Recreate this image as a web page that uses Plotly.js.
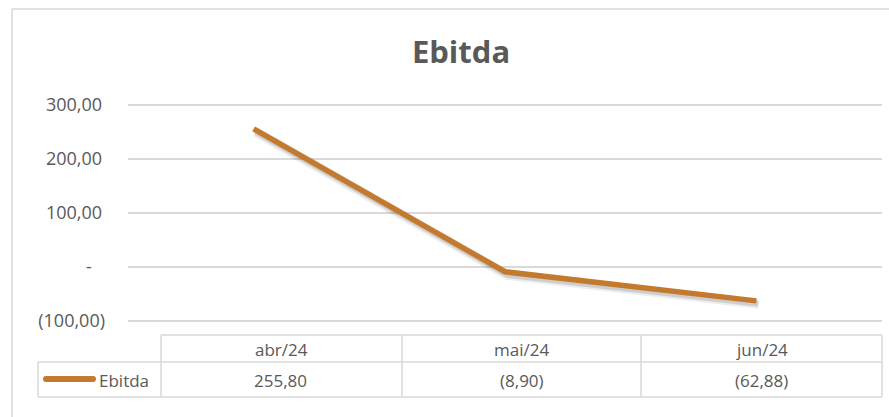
<!DOCTYPE html>
<html>
<head>
<meta charset="utf-8">
<script src="https://cdn.plot.ly/plotly-3.0.1.min.js"></script>
<style>html,body{margin:0;padding:0;background:#fff;}#chart{width:889px;height:417px;}</style>
</head>
<body>
<div id="chart"></div>
<script>
// ---- data ----
var categories = ["abr/24", "mai/24", "jun/24"];
var ebitda = [255.80, -8.90, -62.88];
var seriesName = "Ebitda";
var yTickValues = [-100, 0, 100, 200, 300];

// ---- helpers ----
function fmt(v) {
  if (v === 0) return "-\u2007\u2009";
  var s = Math.abs(v).toFixed(2).replace(".", ",");
  return v < 0 ? "(" + s + ")" : s + "\u2009";
}
var W = 889, H = 417;
var L = 128, R = 7, T = 104, B = 95;
var pw = W - L - R, ph = H - T - B;
var yMin = -102, yMax = 302;
function px(x) { return (x - L) / pw; }
function py(y) { return (H - B - y) / ph; }

var lineColor = "#C47A2E";
var textColor = "#595959";
var gridColor = "#D9D9D9";
var font = "'Open Sans', 'Noto Sans', sans-serif";

// shadow offset in pixels -> axis units
var dxu = 2 / (pw / 3), dyu = 3 / (ph / (yMax - yMin));

var traces = [
  {x: categories, y: ebitda, xaxis: "x", yaxis: "y", type: "scatter", mode: "lines",
   line: {color: "rgba(0,0,0,0.07)", width: 10}, hoverinfo: "skip", showlegend: false},
  {x: categories, y: ebitda, xaxis: "x", yaxis: "y", type: "scatter", mode: "lines",
   line: {color: "rgba(0,0,0,0.13)", width: 6}, hoverinfo: "skip", showlegend: false},
  {x: categories, y: ebitda, xaxis: "x2", yaxis: "y2", type: "scatter", mode: "lines",
   name: seriesName, line: {color: lineColor, width: 5.5}, showlegend: false}
];

// ---- data table ----
var shapes = [], annotations = [];
var colEdges = [161, 402, 641, 882];
var tHeadTop = 335, tMid = 362, tBot = 397, tLeft = 38;
function hline(x0, x1, y) {
  shapes.push({type: "line", xref: "paper", yref: "paper", x0: px(x0), x1: px(x1), y0: py(y), y1: py(y),
    line: {color: gridColor, width: 1.5}});
}
function vline(x, y0, y1) {
  shapes.push({type: "line", xref: "paper", yref: "paper", x0: px(x), x1: px(x), y0: py(y0), y1: py(y1),
    line: {color: gridColor, width: 1.5}});
}
hline(colEdges[0], colEdges[3], tHeadTop);
hline(tLeft, colEdges[3], tMid);
hline(tLeft, colEdges[3], tBot);
vline(tLeft, tMid, tBot);
colEdges.forEach(function (e) { vline(e, tHeadTop, tBot); });

categories.forEach(function (c, i) {
  var cx = (colEdges[i] + colEdges[i + 1]) / 2;
  annotations.push({xref: "paper", yref: "paper", x: px(cx), y: py((tHeadTop + tMid) / 2 + 1),
    text: c, showarrow: false, xanchor: "center", yanchor: "middle",
    font: {family: font, size: 17, color: textColor}});
  annotations.push({xref: "paper", yref: "paper", x: px(cx), y: py((tMid + tBot) / 2 + 1),
    text: fmt(ebitda[i]), showarrow: false, xanchor: "center", yanchor: "middle",
    font: {family: font, size: 17, color: textColor}});
});
// legend key in table
annotations.push({xref: "paper", yref: "paper", x: px(97), y: py((tMid + tBot) / 2 + 1),
  text: seriesName, showarrow: false, xanchor: "left", yanchor: "middle",
  font: {family: font, size: 17, color: textColor}});
shapes.push({type: "line", xref: "paper", yref: "paper", x0: px(46), x1: px(93), y0: py(379), y1: py(379),
  line: {color: lineColor, width: 6}});
[46, 93].forEach(function (cx) {
  shapes.push({type: "circle", xref: "paper", yref: "paper", xsizemode: "pixel", ysizemode: "pixel",
    xanchor: px(cx), yanchor: py(379), x0: -3, x1: 3, y0: -3, y1: 3,
    fillcolor: lineColor, line: {width: 0}});
});
// chart frame (left and top edges)
shapes.push({type: "line", xref: "paper", yref: "paper", x0: px(12), x1: px(12), y0: py(9), y1: py(430),
  line: {color: gridColor, width: 1.5}});
shapes.push({type: "line", xref: "paper", yref: "paper", x0: px(12), x1: px(895), y0: py(9), y1: py(9),
  line: {color: gridColor, width: 1.5}});

var layout = {
  width: W, height: H,
  margin: {l: L, r: R, t: T, b: B},
  paper_bgcolor: "#fff", plot_bgcolor: "rgba(0,0,0,0)",
  showlegend: false,
  title: {text: "<b>Ebitda</b>", xref: "container", yref: "container", x: 461 / W, y: 1 - 52 / H,
    xanchor: "center", yanchor: "middle", font: {family: font, size: 31, color: textColor}},
  xaxis: {type: "category", range: [-0.5 - dxu, 2.5 - dxu], showgrid: false, zeroline: false,
    showticklabels: false, showline: false, ticks: "", fixedrange: true},
  yaxis: {range: [yMin + dyu, yMax + dyu], showgrid: false, zeroline: false, showticklabels: false,
    showline: false, ticks: "", fixedrange: true},
  xaxis2: {type: "category", overlaying: "x", range: [-0.5, 2.5], showgrid: false, zeroline: false,
    showticklabels: false, showline: false, ticks: "", fixedrange: true},
  yaxis2: {overlaying: "y", side: "left", range: [yMin, yMax], showgrid: true, gridcolor: gridColor,
    gridwidth: 1.5, zeroline: false, showline: false, ticks: "",
    tickvals: yTickValues, ticktext: yTickValues.map(fmt), ticklabelstandoff: 22,
    tickfont: {family: font, size: 18, color: textColor}, fixedrange: true},
  shapes: shapes,
  annotations: annotations
};

Plotly.newPlot("chart", traces, layout, {displayModeBar: false, staticPlot: true});
</script>
</body>
</html>
